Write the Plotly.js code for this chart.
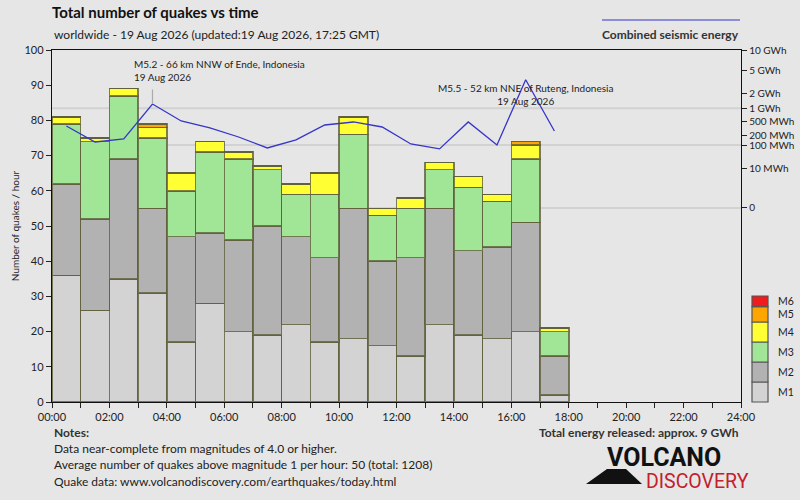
<!DOCTYPE html>
<html>
<head>
<meta charset="utf-8">
<script src="https://cdn.plot.ly/plotly-3.0.1.min.js"></script>
<style>html,body{margin:0;padding:0;background:#e6e6e6;}#chart{width:800px;height:500px;}</style>
</head>
<body>
<div id="chart"></div>
<script>
// ---- data ----
const hours = [0.5,1.5,2.5,3.5,4.5,5.5,6.5,7.5,8.5,9.5,10.5,11.5,12.5,13.5,14.5,15.5,16.5,17.5];
const m1 = [36,26,35,31,17,28,20,19,22,17,18,16,13,22,19,18,20,2];
const m2 = [26,26,34,24,30,20,26,31,25,24,37,24,28,33,24,26,31,11];
const m3 = [17,22,18,20,13,23,23,16,12,18,21,13,14,11,18,13,18,7];
const m4 = [2,1,2,3,5,3,2,1,3,6,5,2,3,2,3,2,4,1];
const m5 = [0,0,0,1,0,0,0,0,0,0,0,0,0,0,0,0,1,0];
const m6 = [0,0,0,0,0,0,0,0,0,0,0,0,0,0,0,0,0,0];
const energyMWh = [377,127,159,1236,506,333,183,79,148,400,478,354,109,73,478,101,3530,275];
const magNames = ['M1','M2','M3','M4','M5','M6'];
const magColors = ['#d3d3d3','#b2b2b2','#a1e696','#ffff33','#ffa500','#ee1c1c'];
const xTickVals = [0,2,4,6,8,10,12,14,16,18,20,22,24];
const xTickText = ['00:00','02:00','04:00','06:00','08:00','10:00','12:00','14:00','16:00','18:00','20:00','22:00','24:00'];
const eTickVals = [0,10,100,200,500,1000,2000,5000,10000];
const eTickText = ['0','10 MWh','100 MWh','200 MWh','500 MWh','1 GWh','2 GWh','5 GWh','10 GWh'];
const eGridVals = [0,100,1000];

// ---- helpers ----
const FONT = 'Lato, "Open Sans", sans-serif';
const LOGOFONT = 'Roboto, "Liberation Sans", sans-serif';
const L = 52, R = 741, T = 50, B = 402;
const px = x => (x - L) / (R - L);
const py = y => (B - y) / (B - T);
const etr = v => Math.pow(v, 0.2);

const series = [m1,m2,m3,m4,m5,m6];
const traces = series.map((s,i) => ({
  type:'bar', x:hours, y:s, name:magNames[i], width:1,
  marker:{color:magColors[i], line:{color:'rgba(95,95,60,0.8)', width:1.5}},
  showlegend:false, hoverinfo:'skip'
}));
traces.push({
  type:'scatter', mode:'lines', x:hours, y:energyMWh.map(etr), yaxis:'y2',
  line:{color:'#3535c8', width:1.3}, showlegend:false, hoverinfo:'skip'
});

const shapes = eGridVals.map(v => ({
  type:'line', xref:'paper', yref:'y2', x0:0, x1:1, y0:etr(v), y1:etr(v),
  line:{color:'#d2d2d2', width:2}, layer:'below'
}));
// legend swatches
const legBounds = [[382,402],[362,382],[342,362],[322,342],[306.7,322],[296,306.7]];
const annotations = [];
legBounds.forEach((b,i) => {
  shapes.push({type:'rect', xref:'paper', yref:'paper', x0:px(752), x1:px(768), y0:py(b[1]), y1:py(b[0]),
    fillcolor:magColors[i], line:{color:'#555555', width:1.2}});
  annotations.push({xref:'paper', yref:'paper', x:px(776), y:py((b[0]+b[1])/2), xanchor:'left', yanchor:'middle',
    text:magNames[i], showarrow:false, font:{family:FONT, size:10.5, color:'#222'}});
});
// blue legend line for energy
shapes.push({type:'line', xref:'paper', yref:'paper', x0:px(602), x1:px(740), y0:py(20), y1:py(20), line:{color:'#3535c8', width:1}});
// logo mountain
shapes.push({type:'path', xref:'paper', yref:'paper',
  path:`M${px(586)},${py(484)} L${px(607)},${py(469)} L${px(626)},${py(469)} L${px(642)},${py(484)} Z`,
  fillcolor:'#111', line:{width:0}});

const txt = (x,y,text,opt={}) => Object.assign({xref:'paper', yref:'paper', x:px(x), y:py(y), text, showarrow:false,
  xanchor:'left', yanchor:'middle', font:{family:FONT, size:12, color:'#222'}}, opt);

annotations.push(
  txt(52,34,'worldwide - 19 Aug 2026 (updated:19 Aug 2026, 17:25 GMT)',{font:{family:FONT,size:12,color:'#222'}}),
  txt(741,34,'<b>Combined seismic energy</b>',{xanchor:'right',font:{family:FONT,size:12,color:'#333'}}),
  txt(52,432,'<b>Notes:</b>',{font:{family:FONT,size:12,color:'#333'}}),
  txt(52,448,'Data near-complete from magnitudes of 4.0 or higher.'),
  txt(52,464,'Average number of quakes above magnitude 1 per hour: 50 (total: 1208)'),
  txt(52,481,'Quake data: www.volcanodiscovery.com/earthquakes/today.html'),
  txt(741,432,'<b>Total energy released: approx. 9 GWh</b>',{xanchor:'right',font:{family:FONT,size:12,color:'#333'}}),
  txt(664,457,'<b>VOLCANO</b>',{xanchor:'center',font:{family:LOGOFONT,size:25,color:'#111'}}),
  txt(697,481,'DISCOVERY',{xanchor:'center',font:{family:LOGOFONT,size:19.5,color:'#c3202c'}}),
  // event annotations
  {xref:'x', yref:'y2', x:3.5, y:etr(energyMWh[3]), ax:0, ay:-16, text:'', showarrow:true, arrowhead:0, arrowwidth:1.2, arrowcolor:'#aaaaaa'},
  {xref:'x', yref:'paper', x:2.79, y:py(70.5), xanchor:'left', yanchor:'middle', align:'left', showarrow:false,
    text:'M5.2 - 66 km NNW of Ende, Indonesia<br>19 Aug 2026', font:{family:FONT, size:10, color:'#222'}},
  {xref:'x', yref:'paper', x:16.5, y:py(95), xanchor:'center', yanchor:'middle', align:'center', showarrow:false,
    text:'M5.5 - 52 km NNE of Ruteng, Indonesia<br>19 Aug 2026', font:{family:FONT, size:10, color:'#222'}}
);

const layout = {
  width:800, height:500,
  margin:{l:L, r:800-R, t:T, b:500-B, pad:0},
  paper_bgcolor:'#e6e6e6', plot_bgcolor:'#e6e6e6',
  barmode:'stack', bargap:0,
  font:{family:FONT, size:11, color:'#222'},
  title:{text:'<b>Total number of quakes vs time</b>', x:px(52), xref:'paper', xanchor:'left', y:1-13/500, yanchor:'middle',
    font:{family:FONT, size:15, color:'#111'}},
  xaxis:{range:[0,24], tickvals:xTickVals, ticktext:xTickText, ticks:'outside', ticklen:5, tickcolor:'#222',
    showline:true, linecolor:'#111', linewidth:1.2, mirror:true, showgrid:false, zeroline:false,
    minor:{dtick:1, ticks:'outside', ticklen:5, tickcolor:'#222', showgrid:false},
    tickfont:{family:FONT, size:11, color:'#222'}, fixedrange:true},
  yaxis:{range:[0,100], dtick:10, ticks:'outside', ticklen:5, tickcolor:'#222', showline:true, linecolor:'#111', linewidth:1.2,
    showgrid:false, zeroline:false, tickfont:{family:FONT, size:11, color:'#222'},
    title:{text:'Number of quakes / hour', font:{family:FONT, size:10, color:'#222'}, standoff:3}},
  yaxis2:{overlaying:'y', side:'right', range:[-7.75, etr(10000)], tickvals:eTickVals.map(etr), ticktext:eTickText,
    ticks:'outside', ticklen:5, tickcolor:'#222', showline:true, linecolor:'#111', linewidth:1.2, showgrid:false, zeroline:false,
    tickfont:{family:FONT, size:10, color:'#222'}},
  shapes, annotations
};

Plotly.newPlot('chart', traces, layout, {staticPlot:true, displayModeBar:false});
</script>
</body>
</html>
